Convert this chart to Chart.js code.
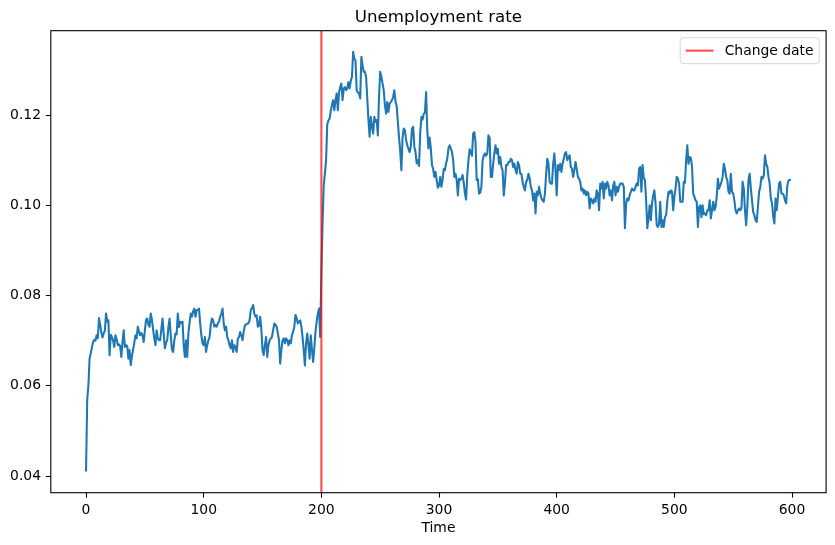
<!DOCTYPE html>
<html>
<head>
<meta charset="utf-8">
<title>Unemployment rate</title>
<script src="https://cdn.jsdelivr.net/npm/chart.js@4.4.0/dist/chart.umd.min.js"></script>
<style>
  html, body { margin: 0; padding: 0; background: #fff; }
  #chartWrap { width: 835px; height: 545px; }
</style>
</head>
<body>
<div id="chartWrap"><canvas id="rateChart" width="835" height="545"></canvas></div>
<script>
// unemployment rate per time step
const rateBeforeChange = [
  0.0410, 0.0570, 0.0600, 0.0660, 0.0672, 0.0685, 0.0697, 0.0702, 0.0700, 0.0712,
  0.0705, 0.0750, 0.0736, 0.0718, 0.0707, 0.0716, 0.0722, 0.0760, 0.0742, 0.0745,
  0.0668, 0.0713, 0.0708, 0.0700, 0.0686, 0.0712, 0.0703, 0.0690, 0.0692, 0.0688,
  0.0664, 0.0697, 0.0723, 0.0686, 0.0690, 0.0688, 0.0660, 0.0679, 0.0646, 0.0665,
  0.0680, 0.0695, 0.0712, 0.0705, 0.0731, 0.0720, 0.0712, 0.0717, 0.0712, 0.0697,
  0.0723, 0.0746, 0.0749, 0.0735, 0.0731, 0.0760, 0.0746, 0.0725, 0.0705, 0.0690,
  0.0723, 0.0705, 0.0701, 0.0701, 0.0725, 0.0749, 0.0715, 0.0683, 0.0695, 0.0701,
  0.0730, 0.0749, 0.0712, 0.0680, 0.0675, 0.0700, 0.0716, 0.0714, 0.0760, 0.0730,
  0.0742, 0.0740, 0.0742, 0.0690, 0.0664, 0.0701, 0.0664, 0.0716, 0.0740, 0.0760,
  0.0753, 0.0765, 0.0771, 0.0753, 0.0768, 0.0768, 0.0771, 0.0738, 0.0712, 0.0694,
  0.0690, 0.0708, 0.0675, 0.0690, 0.0701, 0.0708, 0.0735, 0.0749, 0.0745, 0.0731,
  0.0735, 0.0731, 0.0738, 0.0742, 0.0753, 0.0760, 0.0771, 0.0738, 0.0723, 0.0731,
  0.0708, 0.0701, 0.0690, 0.0683, 0.0701, 0.0675, 0.0690, 0.0686, 0.0675, 0.0705,
  0.0708, 0.0719, 0.0712, 0.0701, 0.0720, 0.0734, 0.0736, 0.0738, 0.0738, 0.0745,
  0.0768, 0.0772, 0.0779, 0.0760, 0.0753, 0.0756, 0.0731, 0.0733, 0.0753, 0.0725,
  0.0679, 0.0668, 0.0690, 0.0708, 0.0664, 0.0690, 0.0701, 0.0705, 0.0708, 0.0723,
  0.0738, 0.0735, 0.0731, 0.0716, 0.0701, 0.0649, 0.0679, 0.0701, 0.0705, 0.0694,
  0.0705, 0.0701, 0.0690, 0.0701, 0.0694, 0.0712, 0.0720, 0.0731, 0.0757, 0.0750,
  0.0738, 0.0742, 0.0745, 0.0731, 0.0708, 0.0679, 0.0645, 0.0694, 0.0716, 0.0690,
  0.0660, 0.0712, 0.0680, 0.0653, 0.0683, 0.0720, 0.0742, 0.0760, 0.0771, 0.0708
];
const rateAfterChange = [
  0.0850, 0.0960, 0.1045, 0.1070, 0.1100, 0.1180, 0.1188, 0.1192, 0.1210, 0.1222,
  0.1233, 0.1211, 0.1233, 0.1248, 0.1211, 0.1250, 0.1262, 0.1270, 0.1233, 0.1259,
  0.1262, 0.1255, 0.1260, 0.1273, 0.1259, 0.1276, 0.1285, 0.1340, 0.1325, 0.1321,
  0.1255, 0.1250, 0.1248, 0.1237, 0.1329, 0.1310, 0.1296, 0.1296, 0.1285, 0.1237,
  0.1189, 0.1152, 0.1196, 0.1175, 0.1159, 0.1196, 0.1185, 0.1189, 0.1155, 0.1240,
  0.1296, 0.1285, 0.1270, 0.1255, 0.1222, 0.1203, 0.1229, 0.1207, 0.1225, 0.1229,
  0.1233, 0.1240, 0.1255, 0.1230, 0.1220, 0.1185, 0.1150, 0.1120, 0.1078, 0.1150,
  0.1170, 0.1166, 0.1145, 0.1133, 0.1125, 0.1118, 0.1130, 0.1170, 0.1174, 0.1130,
  0.1118, 0.1093, 0.1100, 0.1087, 0.1160, 0.1196, 0.1190, 0.1203, 0.1205, 0.1251,
  0.1166, 0.1126, 0.1150, 0.1126, 0.1089, 0.1081, 0.1063, 0.1074, 0.1056, 0.1039,
  0.1044, 0.1063, 0.1041, 0.1056, 0.1081, 0.1078, 0.1093, 0.1103, 0.1126, 0.1133,
  0.1126, 0.1118, 0.1100, 0.1063, 0.1070, 0.1056, 0.1022, 0.1059, 0.1056, 0.1059,
  0.1067, 0.1050, 0.1026, 0.1013, 0.1067, 0.1100, 0.1124, 0.1118, 0.1110, 0.1159,
  0.1162, 0.1140, 0.1056, 0.1058, 0.1026, 0.1028, 0.1041, 0.1100, 0.1110, 0.1115,
  0.1110, 0.1115, 0.1155, 0.1150, 0.1063, 0.1063, 0.1092, 0.1115, 0.1133, 0.1115,
  0.1125, 0.1092, 0.1107, 0.1085, 0.1078, 0.1022, 0.1048, 0.1089, 0.1089, 0.1096,
  0.1096, 0.1103, 0.1100, 0.1085, 0.1092, 0.1078, 0.1070, 0.1096, 0.1089, 0.1070,
  0.1070, 0.1052, 0.1041, 0.1033, 0.1052, 0.1056, 0.1070, 0.1060, 0.1041, 0.1033,
  0.1011, 0.1026, 0.0982, 0.1030, 0.1022, 0.1041, 0.1026, 0.1015, 0.1011, 0.1008,
  0.1026, 0.1070, 0.1103, 0.1092, 0.1052, 0.1048, 0.1048, 0.1092, 0.1115, 0.1078,
  0.1022, 0.1089, 0.1078, 0.1092, 0.1074, 0.1092, 0.1103, 0.1115, 0.1118, 0.1100,
  0.1107, 0.1111, 0.1085, 0.1081, 0.1063, 0.1078, 0.1096, 0.1081, 0.1063, 0.1059,
  0.1052, 0.1033, 0.1037, 0.1026, 0.1033, 0.1022, 0.1030, 0.1026, 0.0993, 0.1015,
  0.1011, 0.1004, 0.1015, 0.1008, 0.1033, 0.1026, 0.0989, 0.1048, 0.1037, 0.1052,
  0.1015, 0.1048, 0.1037, 0.1052, 0.1044, 0.1022, 0.1033, 0.1011, 0.1044, 0.1052,
  0.1022, 0.1041, 0.1030, 0.1041, 0.1048, 0.1048, 0.1048, 0.1041, 0.0949, 0.1004,
  0.1015, 0.1011, 0.1022, 0.1030, 0.1037, 0.1033, 0.1033, 0.1041, 0.1048, 0.1044,
  0.1081, 0.1085, 0.1030, 0.1089, 0.1060, 0.1056, 0.1010, 0.0949, 0.0971, 0.1000,
  0.0967, 0.1004, 0.1022, 0.1033, 0.1004, 0.0956, 0.0952, 0.0960, 0.1008, 0.0952,
  0.0967, 0.0952, 0.0974, 0.0978, 0.1008, 0.1030, 0.1026, 0.1033, 0.1030, 0.0989,
  0.1019, 0.1037, 0.1063, 0.1060, 0.1048, 0.1008, 0.1008, 0.1008, 0.1052, 0.1050,
  0.1100, 0.1133, 0.1092, 0.1107, 0.1105, 0.1085, 0.1026, 0.1019, 0.1011, 0.1008,
  0.0952, 0.0996, 0.1000, 0.0974, 0.1000, 0.0980, 0.0982, 0.0978, 0.0989, 0.0989,
  0.1011, 0.0971, 0.0989, 0.1008, 0.0989, 0.0996, 0.1019, 0.1059, 0.1037, 0.1044,
  0.1052, 0.1063, 0.1092, 0.1081, 0.1063, 0.1056, 0.1030, 0.1026, 0.1070, 0.1030,
  0.1026, 0.1011, 0.0989, 0.0982, 0.0989, 0.0993, 0.0989, 0.0993, 0.1052, 0.1037,
  0.0989, 0.0956, 0.0996, 0.1056, 0.1070, 0.1037, 0.1011, 0.0985, 0.0978, 0.0967,
  0.0963, 0.0996, 0.1030, 0.1040, 0.1063, 0.1059, 0.1066, 0.1111, 0.1092, 0.1085,
  0.1063, 0.1048, 0.1015, 0.1004, 0.0975, 0.0960, 0.1015, 0.0989, 0.1019, 0.1048,
  0.1052, 0.1026, 0.1026, 0.1022, 0.1011, 0.1004, 0.1044, 0.1055, 0.1056, 0.1057
];
const changeDate = 200;
const timeTicks = [0, 100, 200, 300, 400, 500, 600];
const rateTicks = [0.04, 0.06, 0.08, 0.10, 0.12];
const timeLimits = [-29.95, 628.95];
const rateLimits = [0.0363, 0.1387];

const rate = rateBeforeChange.concat(rateAfterChange);
const timeSteps = rate.map((_, i) => i);

const FONT = "'DejaVu Sans', sans-serif";
const FS = 13.9;
const LW = 2.08; // 1.5pt at 100 dpi
Chart.defaults.font.family = FONT;
Chart.defaults.font.size = FS;
Chart.defaults.color = '#000';

// frame, title and legend drawn the matplotlib way
const extras = {
  id: 'extras',
  afterDatasetsDraw(chart) {
    const { ctx, chartArea: a } = chart;
    ctx.save();
    ctx.strokeStyle = '#000';
    ctx.lineWidth = 1.1;
    ctx.strokeRect(a.left, a.top, a.right - a.left, a.bottom - a.top);

    ctx.fillStyle = '#000';
    ctx.font = `16.67px ${FONT}`;
    ctx.textAlign = 'center';
    ctx.textBaseline = 'alphabetic';
    ctx.fillText('Unemployment rate', (a.left + a.right) / 2, a.top - 8.3);

    // legend box, upper right
    ctx.font = `${FS}px ${FONT}`;
    const label = 'Change date';
    const tw = ctx.measureText(label).width;
    const pad = 0.4 * FS, handle = 2 * FS, gap = 0.8 * FS;
    const w = pad + handle + gap + tw + pad;
    const h = 2 * pad + 1.07 * FS;
    const x0 = a.right - 0.5 * FS - w;
    const y0 = a.top + 0.5 * FS;
    ctx.beginPath();
    ctx.roundRect(x0, y0, w, h, 0.2 * FS);
    ctx.fillStyle = 'rgba(255,255,255,0.8)';
    ctx.fill();
    ctx.strokeStyle = 'rgba(204,204,204,0.8)';
    ctx.lineWidth = 1;
    ctx.stroke();

    const cy = y0 + h / 2;
    ctx.beginPath();
    ctx.moveTo(x0 + pad, cy);
    ctx.lineTo(x0 + pad + handle, cy);
    ctx.strokeStyle = 'rgba(255,0,0,0.7)';
    ctx.lineWidth = LW;
    ctx.stroke();

    ctx.fillStyle = '#000';
    ctx.textAlign = 'left';
    ctx.textBaseline = 'middle';
    ctx.fillText(label, x0 + pad + handle + gap, cy + 1);
    ctx.restore();
  }
};

const ctx = document.getElementById('rateChart').getContext('2d');
new Chart(ctx, {
  type: 'line',
  data: {
    datasets: [{
      label: 'Unemployment rate',
      data: timeSteps.map((t, i) => ({ x: t, y: rate[i] })),
      borderColor: '#1f77b4',
      borderWidth: LW,
      borderJoinStyle: 'round',
      pointRadius: 0,
      tension: 0,
      fill: false,
      order: 1
    }, {
      label: 'Change date',
      data: [{ x: changeDate, y: rateLimits[0] }, { x: changeDate, y: rateLimits[1] }],
      borderColor: 'rgba(255,0,0,0.7)',
      borderWidth: LW,
      pointRadius: 0,
      fill: false,
      order: 0
    }]
  },
  options: {
    responsive: false,
    animation: false,
    devicePixelRatio: 1,
    layout: { padding: { top: 30.7, right: 8.9, left: 0, bottom: 0 } },
    plugins: {
      legend: { display: false },
      tooltip: { enabled: false }
    },
    scales: {
      x: {
        type: 'linear',
        min: timeLimits[0],
        max: timeLimits[1],
        afterBuildTicks: s => { s.ticks = timeTicks.map(v => ({ value: v })); },
        afterFit: s => { s.height = 52.3; },
        border: { display: false },
        grid: { drawOnChartArea: false, drawTicks: true, tickLength: 4.9, tickWidth: 1.1, tickColor: '#000' },
        ticks: { padding: 4.9, maxRotation: 0, autoSkip: false, callback: v => String(v) },
        title: { display: true, text: 'Time', padding: { top: 0, bottom: 8.7 } }
      },
      y: {
        type: 'linear',
        min: rateLimits[0],
        max: rateLimits[1],
        afterBuildTicks: s => { s.ticks = rateTicks.map(v => ({ value: v })); },
        afterFit: s => { s.width = 50.8; },
        border: { display: false },
        grid: { drawOnChartArea: false, drawTicks: true, tickLength: 4.9, tickWidth: 1.1, tickColor: '#000' },
        ticks: { padding: 4.9, callback: v => v.toFixed(2) }
      }
    }
  },
  plugins: [extras]
});
</script>
</body>
</html>
